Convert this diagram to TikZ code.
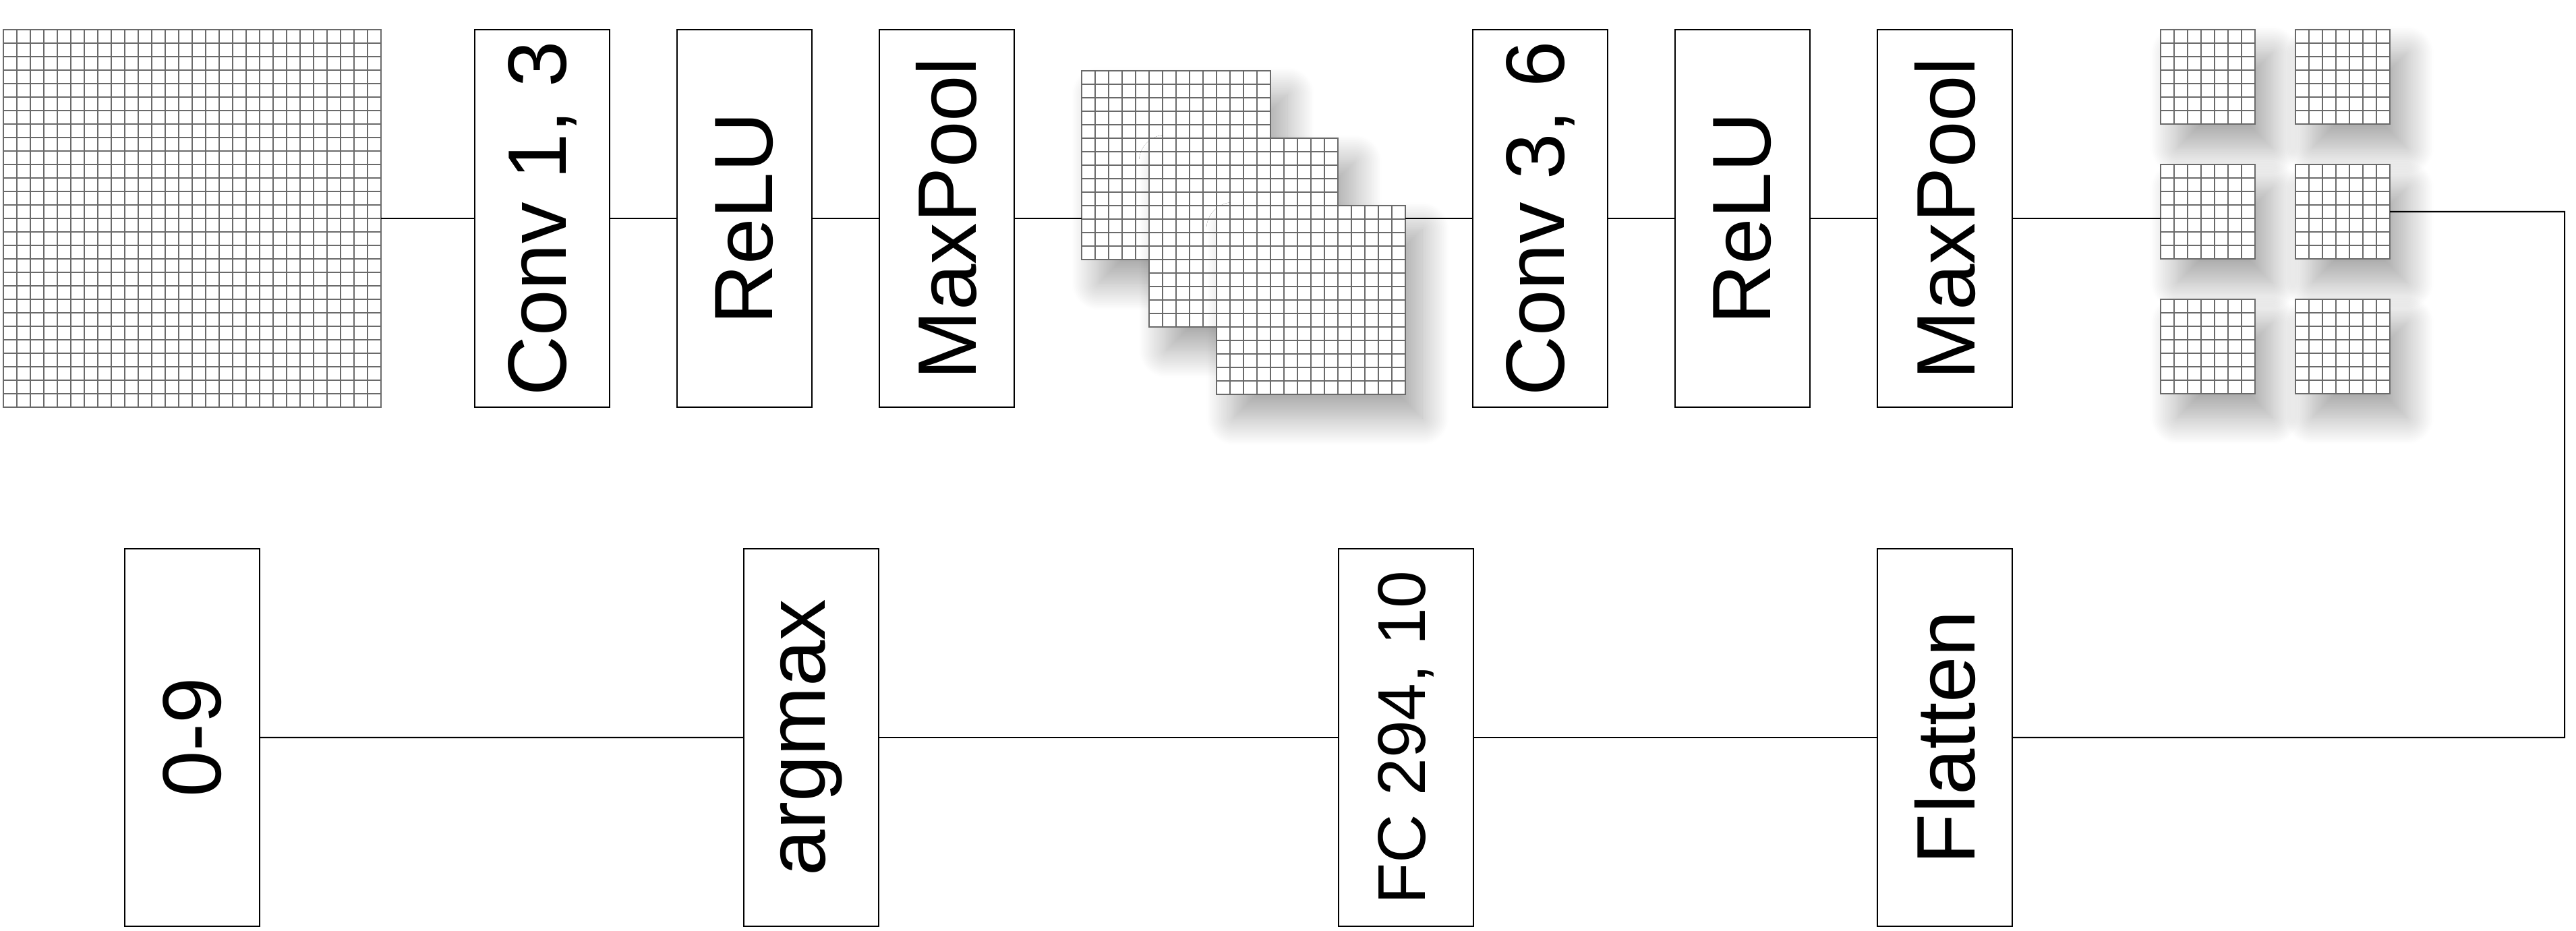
\documentclass[tikz,border=0pt]{standalone}
\usepackage{fontspec}
\setmainfont{Liberation Sans}
\usetikzlibrary{positioning,shadows.blur}
\definecolor{gridgray}{HTML}{6A6A6A}
\newcommand{\lyrfont}{\fontsize{35}{42}\selectfont}
\newcommand{\fcfont}{\fontsize{28.5}{34}\selectfont}
\tikzstyle{layer} = [draw, rectangle, fill=white, line width=0.6pt, minimum width=2cm,
minimum height=5.6cm, inner sep=0pt, outer sep=0pt, font=\lyrfont]
\tikzstyle{link} = [line width=0.6pt]
\tikzstyle{gridline} = [gridgray, line width=0.5pt]
\tikzstyle{shadowed} = [blur shadow={shadow xshift=2.5mm, shadow yshift=-3.5mm,
shadow blur radius=4mm, shadow blur steps=30, shadow opacity=35}]
\tikzset{fmap/.style={draw=gridgray, line width=0.5pt, fill=white, inner sep=0pt,
outer sep=0pt, minimum size=#1*2mm}}
% cells of a feature map: node name, number of cells per side
\newcommand{\fmapcells}[2]{\draw[gridline, shift={(#1.south west)}] (0,0) grid[step=2mm] (#2*2mm+0.05mm,#2*2mm+0.05mm);}

\begin{document}
\begin{tikzpicture}
		\useasboundingbox (0,0) rectangle (38.2,-13.8);
		%input image
		\node[fmap=28] (in) at (2.85,-3.24) {}; \fmapcells{in}{28}
		%first conv block
		\node[layer, right=1.39cm of in] (conv1) {\rotatebox{90}{Conv 1, 3}};
		\node[layer, right=1cm of conv1] (relu1) {\rotatebox{90}{ReLU}};
		\node[layer, right=1cm of relu1] (pool1) {\rotatebox{90}{MaxPool}};
		%feature maps after first block
		\node[fmap=14, shadowed] (fm1) at (17.44,-2.45) {}; \fmapcells{fm1}{14}
		\node[fmap=14, shadowed] (fm2) at ([shift={(1,-1)}]fm1) {}; \fmapcells{fm2}{14}
		\node[fmap=14, shadowed] (fm3) at ([shift={(1,-1)}]fm2) {}; \fmapcells{fm3}{14}
		%second conv block
		\node[layer, right=6.8cm of pool1] (conv2) {\rotatebox{90}{Conv 3, 6}};
		\node[layer, right=1cm of conv2] (relu2) {\rotatebox{90}{ReLU}};
		\node[layer, right=1cm of relu2] (pool2) {\rotatebox{90}{MaxPool}};
		%feature maps after second block
		\node[fmap=7, shadowed] (sg11) at (32.74,-1.14) {}; \fmapcells{sg11}{7}
		\node[fmap=7, shadowed] (sg12) at (34.74,-1.14) {}; \fmapcells{sg12}{7}
		\node[fmap=7, shadowed] (sg21) at (32.74,-3.14) {}; \fmapcells{sg21}{7}
		\node[fmap=7, shadowed] (sg22) at (34.74,-3.14) {}; \fmapcells{sg22}{7}
		\node[fmap=7, shadowed] (sg31) at (32.74,-5.14) {}; \fmapcells{sg31}{7}
		\node[fmap=7, shadowed] (sg32) at (34.74,-5.14) {}; \fmapcells{sg32}{7}
		%classifier
		\node[layer, below=2.1cm of pool2] (flat) {\rotatebox{90}{Flatten}};
		\node[layer, left=5.99cm of flat, font=\fcfont] (fc) {\rotatebox{90}{FC 294, 10}};
		\node[layer, left=6.82cm of fc] (argmax) {\rotatebox{90}{argmax}};
		\node[layer, below=2.1cm of in] (out) {\rotatebox{90}{0-9}};
		\coordinate (turn) at (38.03,-10.94);
		
		%links
		\draw[link] (in)--(conv1);
		\draw[link] (conv1)--(relu1);
		\draw[link] (relu1)--(pool1);
		\draw[link] (pool1.east)--(pool1.east -| fm1.west);
		\draw[link] (fm3.east |- conv2.west)--(conv2.west);
		\draw[link] (conv2)--(relu2);
		\draw[link] (relu2)--(pool2);
		\draw[link] (pool2.east)--(pool2.east -| sg21.west);
		\draw[link] (sg22.east) -| (turn)--(flat.east);
		\draw[link] (flat)--(fc);
		\draw[link] (fc)--(argmax);
		\draw[link] (argmax)--(out);
	\end{tikzpicture}
\end{document}
